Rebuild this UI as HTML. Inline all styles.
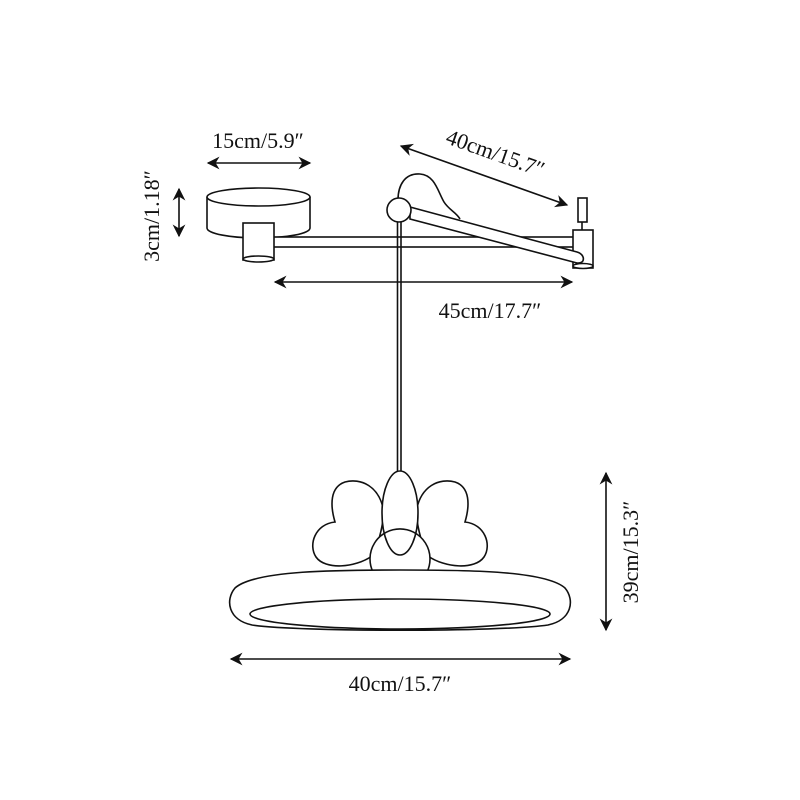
<!DOCTYPE html>
<html><head><style>body{margin:0;background:#fff}svg{display:block}</style></head><body>
<svg width="800" height="800" viewBox="0 0 800 800" xmlns="http://www.w3.org/2000/svg">
<defs><marker id="a" viewBox="0 0 10 10" refX="9" refY="5" markerWidth="8" markerHeight="8" orient="auto-start-reverse"><path d="M0,0 L10,5 L0,10 L3,5 Z" fill="#111"/></marker></defs>
<g fill="#fff" stroke="#111" stroke-width="1.6">
<path d="M207,197 L207,228 A51.5,10 0 0 0 310,228 L310,197"/>
<ellipse cx="258.5" cy="197" rx="51.5" ry="9"/>
<rect x="270" y="237" width="304" height="10"/>
<rect x="243" y="223" width="31" height="37"/>
<ellipse cx="258.5" cy="259" rx="15.5" ry="3"/>
<line x1="582" y1="220" x2="582" y2="231"/>
<rect x="578" y="198" width="9" height="24"/>
<rect x="573" y="230" width="20" height="38"/>
<ellipse cx="583" cy="266" rx="10" ry="2.5"/>
<line x1="397.5" y1="220" x2="397.5" y2="474"/>
<line x1="401" y1="220" x2="401" y2="474"/>
<path d="M398,200 C398,185 405,173 420,174 C435,175 438,192 444,202 C449,210 456,212 460,219"/>
<path d="M410,207 L577,252 C585,254 586,264 577,263 L410,219 Z"/>
<circle cx="399" cy="210" r="12"/>
<path d="M384,513 C380,485 360,478 345,482 C330,487 330,505 335,522 C315,524 308,545 316,557 C325,570 355,568 372,556 C378,545 382,530 384,513 Z"/>
<path d="M416,513 C420,485 440,478 455,482 C470,487 470,505 465,522 C485,524 492,545 484,557 C475,570 445,568 428,556 C422,545 418,530 416,513 Z"/>
<path d="M373,572 A30,30 0 1 1 427,572 Z" stroke="none"/>
<ellipse cx="400" cy="513" rx="18" ry="42"/>
<path d="M373,572 A30,30 0 1 1 427,572" fill="none"/>
<path d="M235,588 C255,570 340,570 400,570 C460,570 545,570 565,588 C575,600 572,620 548,625 C500,632 300,632 252,625 C228,620 225,600 235,588 Z"/>
<ellipse cx="400" cy="614" rx="150" ry="15"/>
</g>
<g stroke="#111" stroke-width="1.6" fill="none" marker-start="url(#a)" marker-end="url(#a)">
<line x1="208" y1="163" x2="310" y2="163"/>
<line x1="179" y1="189" x2="179" y2="236"/>
<line x1="275" y1="282" x2="572" y2="282"/>
<line x1="401" y1="146" x2="567" y2="205"/>
<line x1="231" y1="659" x2="570" y2="659"/>
<line x1="606" y1="473" x2="606" y2="630"/>
</g>
<g font-family="Liberation Serif, serif" font-size="22" fill="#111" text-anchor="middle">
<text x="258" y="148">15cm/5.9″</text>
<text x="490" y="318">45cm/17.7″</text>
<text x="400" y="691">40cm/15.7″</text>
<text transform="translate(159,216) rotate(-90)">3cm/1.18″</text>
<text transform="translate(638,552) rotate(-90)">39cm/15.3″</text>
<text transform="translate(493,160) rotate(19.5)">40cm/15.7″</text>
</g>
</svg>
</body></html>
